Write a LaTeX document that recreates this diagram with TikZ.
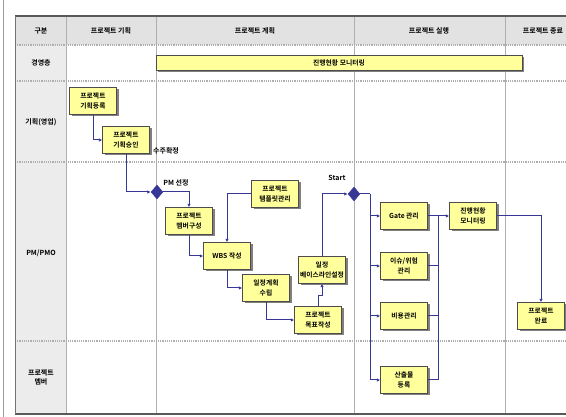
\documentclass[tikz,border=0pt]{standalone}
\usepackage{fontspec}
\setmainfont{Noto Sans CJK KR}[BoldFont={Noto Sans CJK KR Bold}]
\usetikzlibrary{positioning,shapes.geometric,shadows,arrows.meta}

\definecolor{boxyellow}{RGB}{255,255,156}
\definecolor{flowblue}{RGB}{55,55,150}
\definecolor{headgray}{RGB}{226,226,226}
\definecolor{lanegray}{RGB}{236,236,236}
\definecolor{gridgray}{RGB}{175,175,175}

\begin{document}
\begin{tikzpicture}[x=1pt,y=-1pt,
    lbl/.style={font=\bfseries\fontsize{7}{8}\selectfont,inner sep=1pt},
    task/.style={draw=black!70,fill=boxyellow,thin,minimum width=47pt,minimum height=27pt,
      inner sep=1pt,align=center,font=\bfseries\fontsize{6.8}{9.5}\selectfont,
      drop shadow={shadow xshift=2pt,shadow yshift=-2pt,fill=black!50,opacity=1}},
    gate/.style={diamond,fill=flowblue,draw=flowblue,inner sep=0pt,minimum width=12pt,minimum height=14pt},
    flow/.style={draw=flowblue,line width=1pt,-{Latex[length=3.5pt,width=3.5pt]}},
    line/.style={draw=flowblue,line width=1pt}]
  \useasboundingbox (0,0) rectangle (566,417);
  \clip (0,0) rectangle (566,417);

  % Lanes and columns
  \fill[headgray] (15,16) rectangle (566,45);
  \fill[lanegray] (15,45) rectangle (66,414);
  \foreach \y in {45,81,162,341}
    \draw[gridgray,line width=1.2pt,densely dotted] (15,\y) -- (566,\y);
  \foreach \x in {66,156,354,505}
    \draw[gridgray,thin] (\x,16) -- (\x,414);
  \draw[black!65,line width=1.2pt] (15,16) -- (566,16);
  \draw[black!65,line width=1.2pt] (15,414) -- (566,414);
  \draw[black!55] (15,16) -- (15,414);
  \draw[black!40,line width=1.5pt] (3.5,0) -- (3.5,417);

  \node[lbl] (hd_kind) at (41,31) {구분};
  \node[lbl] (hd_plan) at (111,31) {프로젝트 기획};
  \node[lbl] (hd_design) at (255,31) {프로젝트 계획};
  \node[lbl] (hd_run) at (429,31) {프로젝트 실행};
  \node[lbl] (hd_close) at (543,31) {프로젝트 종료};

  \node[lbl] (ln_exec) at (41,63) {경영층};
  \node[lbl] (ln_sales) at (41,122) {기획(영업)};
  \node[lbl] (ln_pm) at (41,253) {PM/PMO};
  \node[lbl,align=center] (ln_member) at (41,377) {프로젝트\\[1pt]멤버};

  % Monitoring bar
  \node[task,minimum width=366pt,minimum height=15pt] (bar) at (339,62.5) {진행현황 모니터링};

  \begin{scope}[every node/.style={task}]
    % Planning
    \node (reg) at (93,101) {프로젝트\\기획등록};
    \node (appr) at (126,140) {프로젝트\\기획승인};

    % Design
    \node (mem) at (189,221) {프로젝트\\멤버구성};
    \node (wbs) at (227,256) {WBS 작성};
    \node (tmpl) at (275,194) {프로젝트\\템플릿관리};
    \node (sched) at (266,288) {일정계획\\수립};
    \node (goal) at (318,320) {프로젝트\\목표작성};
    \node (base) at (322,270) {일정\\베이스라인설정};

    % Execution
    \node (gatem) at (404,216) {Gate 관리};
    \node (risk) at (404,266) {이슈/위험\\관리};
    \node (cost) at (404,316) {비용관리};
    \node (out) at (404,380) {산출물\\등록};
    \node (mon) at (473,216) {진행현황\\모니터링};

    % Closing
    \node (done) at (541,316) {프로젝트\\완료};
  \end{scope}

  \node[gate] (pm) at (157,192) {};
  \node[gate] (start) at (354,194) {};
  \node[lbl] (won) at (166,151) {수주확정};
  \node[lbl] (pmsel) at (176,183) {PM 선정};
  \node[lbl] (startlbl) at (337,178) {Start};

  \draw[flow] (reg.south) |- (appr.west);
  \draw[flow] (appr.south) |- (pm.west);
  \draw[flow] (pm.east) -| (mem.north);
  \draw[flow] (mem.south) |- (wbs.west);
  \draw[flow] (tmpl.west) -| (wbs.north);
  \draw[flow] (wbs.south) |- (sched.west);
  \draw[flow] (sched.south) |- (goal.west);
  \draw[flow] (goal.north) -- ++(0,-11) -| (base.south);
  \draw[flow] (base.north) |- (start.west);

  % Branches after start
  \coordinate (split) at (370,194);
  \coordinate (join) at (438,216);
  \draw[line] (start.east) -- (split);
  \draw[flow] (split) |- (out.west);
  \draw[flow] (split |- gatem.west) -- (gatem.west);
  \draw[flow] (split |- risk.west) -- (risk.west);
  \draw[flow] (split |- cost.west) -- (cost.west);
  \draw[line] (out.east) -| (join);
  \draw[line] (cost.east) -| (join);
  \draw[line] (risk.east) -| (join);
  \draw[flow] (gatem.east) -- (mon.west);
  \draw[flow] (mon.east) -| (done.north);
\end{tikzpicture}
\end{document}
